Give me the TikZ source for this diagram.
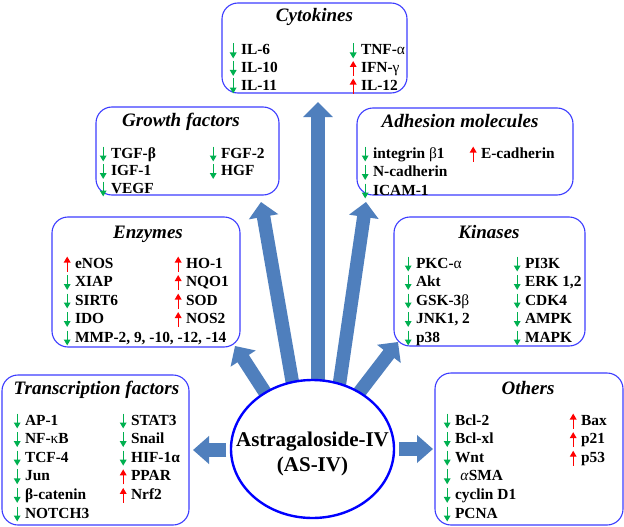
\documentclass[tikz,border=0pt]{standalone}
\usepackage{fontspec}
\setmainfont{Liberation Serif}
\usetikzlibrary{arrows.meta,shapes.geometric}
\definecolor{boxblue}{RGB}{60,60,255}
\definecolor{ellblue}{RGB}{0,0,255}
\definecolor{arrblue}{RGB}{79,127,189}
\definecolor{arredge}{RGB}{65,105,160}
\definecolor{dngreen}{RGB}{0,176,80}
\definecolor{upred}{RGB}{255,0,0}
\newcommand\smallarr[3]{\tikz[baseline=0pt,x=1pt,y=1pt]{\path (0,-3) rectangle (8,12);\draw[#1, line width=1.4pt, -{Triangle[width=6.5pt,length=6pt]}] (4,#2) -- (4,#3);}}
\newcommand\dnA{\smallarr{dngreen}{11.5}{-3.5}\hspace{0.25em}}
\newcommand\upA{\smallarr{upred}{-3.5}{11.5}\hspace{0.25em}}
\newcommand\itemcol[5]{%
  \foreach \t [count=\i] in {#5}{\node[item] (#1-\i) at (#2,{#3+#4*(\i-1)+5}) {\t};}}
\begin{document}
\begin{tikzpicture}[x=1pt,y=-1pt,
  box/.style={draw=boxblue, line width=1.1pt, rounded corners=16pt, inner sep=0pt, fill=white},
  ttl/.style={anchor=base, inner sep=0pt, font=\fontsize{19}{22}\selectfont\bfseries\itshape},
  item/.style={anchor=base west, inner sep=0pt, font=\fontsize{15.4}{18}\selectfont\bfseries},
  bigarr/.style={draw=arrblue, line width=13.5pt, -{Triangle[width=29pt,length=15pt]}},
  centertxt/.style={inner sep=0pt, align=center, font=\fontsize{21}{25}\selectfont\bfseries}]
\useasboundingbox (0,0) rectangle (624,527);
\fill[white] (0,0) rectangle (624,527);
% boxes
\node[box, minimum width=185pt, minimum height=90pt] (cyto) at (314.5,48) {};
\node[box, minimum width=183pt, minimum height=88pt] (growth) at (187.5,151) {};
\node[box, minimum width=216pt, minimum height=87pt] (adh) at (465,151.5) {};
\node[box, minimum width=188pt, minimum height=130pt] (enz) at (146,282) {};
\node[box, minimum width=191pt, minimum height=129pt] (kin) at (489.5,281.5) {};
\node[box, minimum width=187pt, minimum height=150pt] (trans) at (95.5,450) {};
\node[box, minimum width=188pt, minimum height=152pt] (oth) at (529,449) {};
% titles
\node[ttl] (cytoT) at (314.5,22) {Cytokines};
\node[ttl] (growthT) at (181,126) {Growth factors};
\node[ttl] (adhT) at (460,128) {Adhesion molecules};
\node[ttl] (enzT) at (148,238) {Enzymes};
\node[ttl] (kinT) at (489,238) {Kinases};
\node[ttl] (transT) at (96.5,394) {Transcription factors};
\node[ttl] (othT) at (528,394) {Others};
% items
\itemcol{cytoL}{229}{50}{17.5}{{\dnA IL-6},{\dnA IL-10},{\dnA IL-11}}
\itemcol{cytoR}{349}{50}{17.5}{{\dnA TNF-\textmd{α}},{\upA IFN-\textmd{γ}},{\upA IL-12}}
\itemcol{growthL}{99}{153}{17.5}{{\dnA TGF-β},{\dnA IGF-1},{\dnA VEGF}}
\itemcol{growthR}{209}{153}{17.5}{{\dnA FGF-2},{\dnA HGF}}
\itemcol{adhL}{361}{153}{18.5}{{\dnA integrin \textmd{β}1},{\dnA N-cadherin},{\dnA ICAM-1}}
\itemcol{adhR}{469}{153}{18.5}{{\upA E-cadherin}}
\itemcol{enzL}{63}{263}{18.5}{{\upA eNOS},{\dnA XIAP},{\dnA SIRT6},{\dnA IDO},{\dnA MMP-2, 9, -10, -12, -14}}
\itemcol{enzR}{174}{263}{18.5}{{\upA HO-1},{\upA NQO1},{\upA SOD},{\upA NOS2}}
\itemcol{kinL}{404}{263}{18.5}{{\dnA PKC-\textmd{α}},{\dnA Akt},{\dnA GSK-3\textmd{β}},{\dnA JNK1, 2},{\dnA p38}}
\itemcol{kinR}{513}{263}{18.5}{{\dnA PI3K},{\dnA ERK 1,2},{\dnA CDK4},{\dnA AMPK},{\dnA MAPK}}
\itemcol{transL}{13}{420}{18.6}{{\dnA AP-1},{\dnA NF-\textmd{κ}B},{\dnA TCF-4},{\dnA Jun},{\dnA β-catenin},{\dnA NOTCH3}}
\itemcol{transR}{119}{420}{18.6}{{\dnA STAT3},{\dnA Snail},{\dnA HIF-1α},{\upA PPAR},{\upA Nrf2}}
\itemcol{othL}{443}{420}{18.6}{{\dnA Bcl-2},{\dnA Bcl-xl},{\dnA Wnt},{\dnA \hspace{0.35em}\textmd{\itshape α}SMA},{\dnA cyclin D1},{\dnA PCNA}}
\itemcol{othR}{569}{420}{18.6}{{\upA Bax},{\upA p21},{\upA p53}}
% arrow end points
\coordinate (sC) at (318,395);   \coordinate (tC) at (318,102);
\coordinate (sGL) at (294.6,395); \coordinate (tGL) at (261,202);
\coordinate (sAR) at (337.8,395); \coordinate (tAR) at (366,202);
\coordinate (sE) at (268,397);   \coordinate (tE) at (235,346);
\coordinate (sK) at (355,398);   \coordinate (tK) at (398,342);
\coordinate (sL) at (226,450);   \coordinate (tL) at (193,450);
\coordinate (sR) at (399,449);   \coordinate (tR) at (433,449);
\draw[bigarr] (sC) -- (tC);
\draw[bigarr] (sGL) -- (tGL);
\draw[bigarr] (sAR) -- (tAR);
\draw[bigarr] (sE) -- (tE);
\draw[bigarr] (sK) -- (tK);
\draw[bigarr, -{Triangle[width=27pt,length=16pt]}] (sL) -- (tL);
\draw[bigarr, -{Triangle[width=27pt,length=16pt]}] (sR) -- (tR);
% centre
\node[ellipse, draw=ellblue, line width=2.4pt, fill=white, minimum width=163pt, minimum height=138pt, inner sep=0pt] (as) at (312.5,449) {};
\node[centertxt] (astxt) at (312.5,454) {Astragaloside-IV\\(AS-IV)};
\end{tikzpicture}
\end{document}
